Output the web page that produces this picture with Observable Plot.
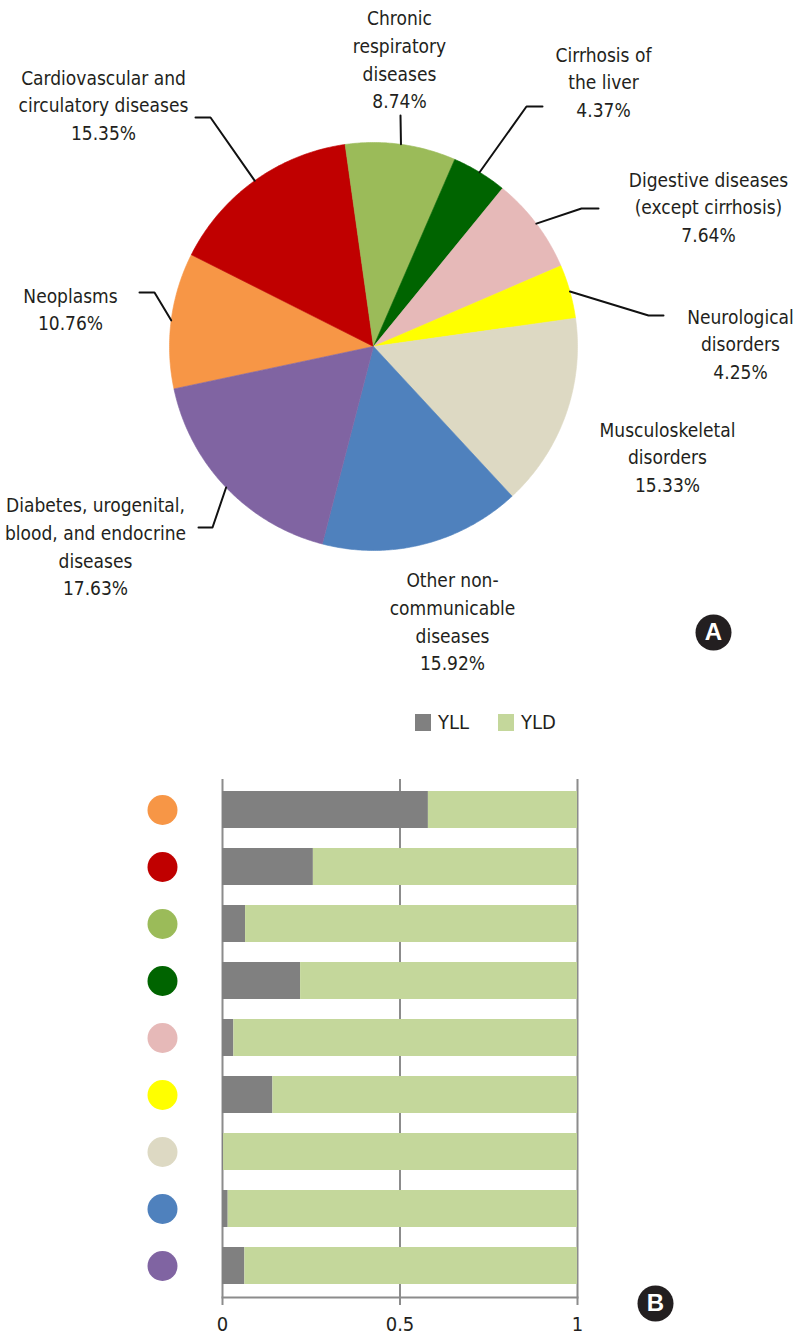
<!DOCTYPE html>
<html><head><meta charset="utf-8">
<script src="https://cdn.jsdelivr.net/npm/d3@7"></script>
<script src="https://cdn.jsdelivr.net/npm/@observablehq/plot@0.6"></script>
<style>
html,body{margin:0;padding:0;background:#fff}
body{width:796px;height:1335px;position:relative;overflow:hidden;font-family:"Liberation Sans Narrow","DejaVu Sans Condensed",sans-serif;color:#231f20}
#pie{position:absolute;left:0;top:0}
#bars{position:absolute;left:0;top:680px}
.leg{position:absolute;top:710px;display:flex;align-items:center;font-size:20px;line-height:24px}
.sw{width:16px;height:17px;margin-right:7px}
</style></head>
<body>
<div id="pie"></div>
<div id="bars"></div>
<div class="leg" style="left:415px"><div class="sw" style="background:#808080"></div><span>YLL</span></div>
<div class="leg" style="left:498px"><div class="sw" style="background:#c4d79b"></div><span>YLD</span></div>
<script>
// ---------- data ----------
const categories = ["Neoplasms","Cardiovascular and circulatory diseases","Chronic respiratory diseases","Cirrhosis of the liver","Digestive diseases (except cirrhosis)","Neurological disorders","Musculoskeletal disorders","Other non-communicable diseases","Diabetes, urogenital, blood, and endocrine diseases"];
const labelLines = [
  ["Neoplasms"],
  ["Cardiovascular and","circulatory diseases"],
  ["Chronic","respiratory","diseases"],
  ["Cirrhosis of","the liver"],
  ["Digestive diseases","(except cirrhosis)"],
  ["Neurological","disorders"],
  ["Musculoskeletal","disorders"],
  ["Other non-","communicable","diseases"],
  ["Diabetes, urogenital,","blood, and endocrine","diseases"]
];
const shares = [10.76, 15.35, 8.74, 4.37, 7.64, 4.25, 15.33, 15.92, 17.63];
const colors = ["#f79646","#c00000","#9bbb59","#006400","#e6b9b8","#ffff00","#ddd9c3","#4f81bd","#8064a2"];
const yll = [0.58, 0.256, 0.065, 0.22, 0.032, 0.142, 0.003, 0.016, 0.063];
const yld = [0.42, 0.744, 0.935, 0.78, 0.968, 0.858, 0.997, 0.984, 0.937];
const seriesNames = ["YLL","YLD"];
const seriesColors = ["#808080","#c4d79b"];
const xTicks = [0, 0.5, 1];
const xTickLabels = ["0","0.5","1"];

// ---------- layout (pixels in the pie panel) ----------
const CX = 373, CY = 346, R = 204;
const toX = px => (px - CX) / R, toY = py => (CY - py) / R;
const labelPos = [[70,307],[103,103],[399,57.5],[603,80],[708,205],[740,342],[667,455],[452,619.5],[95,544.5]];
const leaderPts = [
  [[154,292],[139,292]],
  [[210,117],[195,117]],
  [[400,115]],
  [[526,106],[542,106]],
  [[581,208],[598,208]],
  [[648,315],[663,315]],
  [],
  [],
  [[212,527],[198,527]]
];
const FONT = '"Liberation Sans Narrow","DejaVu Sans Condensed",sans-serif';

// ---------- pie ----------
const start = -102 * Math.PI / 180;
const arcs = d3.pie().sort(null).value(d => d).startAngle(start).endAngle(start + 2*Math.PI)(shares);
const poly = [];
arcs.forEach((a, i) => {
  const name = categories[i];
  poly.push({name, x: 0, y: 0});
  const n = Math.max(8, Math.ceil((a.endAngle - a.startAngle) / 0.01));
  for (let k = 0; k <= n; k++) {
    const t = a.startAngle + (a.endAngle - a.startAngle) * k / n;
    poly.push({name, x: Math.sin(t), y: Math.cos(t)});
  }
  poly.push({name, x: 0, y: 0});
});
const leaders = [];
arcs.forEach((a, i) => {
  if (!leaderPts[i].length) return;
  const m = (a.startAngle + a.endAngle) / 2;
  leaders.push({name: categories[i], x: Math.sin(m), y: Math.cos(m)});
  leaderPts[i].forEach(p => leaders.push({name: categories[i], x: toX(p[0]), y: toY(p[1])}));
});
const labels = categories.map((c, i) => ({
  text: [...labelLines[i], shares[i].toFixed(2) + "%"].join("\n"),
  x: toX(labelPos[i][0]), y: toY(labelPos[i][1])
}));

const pie = Plot.plot({
  width: 796, height: 680, margin: 0,
  style: {fontFamily: FONT, background: "transparent"},
  x: {domain: [-1, 1], range: [CX - R, CX + R], axis: null},
  y: {domain: [-1, 1], range: [CY + R, CY - R], axis: null},
  color: {domain: categories, range: colors},
  marks: [
    Plot.line(poly, {x: "x", y: "y", z: "name", fill: "name", stroke: "name", strokeWidth: 0.6}),
    Plot.line(leaders, {x: "x", y: "y", z: "name", stroke: "#111", strokeWidth: 2}),
    Plot.text(labels, {x: "x", y: "y", text: "text", fontSize: 19, lineHeight: 1.46, fill: "#231f20", lineAnchor: "middle"}),
    Plot.dot(["A"], {x: toX(713), y: toY(632), r: 18, fill: "#231f20", stroke: null}),
    Plot.text(["A"], {x: toX(713), y: toY(632), text: d => d, fill: "white", fontSize: 24, fontWeight: "bold", fontFamily: "Liberation Sans, sans-serif", textAnchor: "middle", lineAnchor: "middle"})
  ]
});
document.getElementById("pie").append(pie);

// ---------- bars ----------
const rows = [];
categories.forEach((c, i) => {
  rows.push({cat: c, type: seriesNames[0], value: yll[i]});
  rows.push({cat: c, type: seriesNames[1], value: yld[i]});
});
const bars = Plot.plot({
  width: 796, height: 655,
  marginTop: 99, marginBottom: 38, marginLeft: 222, marginRight: 219,
  style: {fontFamily: FONT, background: "transparent"},
  x: {domain: [0, 1], axis: null},
  y: {domain: categories, paddingInner: 0.35, paddingOuter: 0.21, axis: null},
  color: {domain: [...seriesNames, ...categories], range: [...seriesColors, ...colors]},
  marks: [
    Plot.ruleX(xTicks, {stroke: "#8c8c8c", strokeWidth: 2}),
    Plot.barX(rows, {x: "value", y: "cat", fill: "type"}),
    Plot.frame({anchor: "bottom", stroke: "#8c8c8c", strokeWidth: 2}),
    Plot.axisX(xTicks, {tickSize: 8, tickPadding: 11, stroke: "#8c8c8c", strokeWidth: 2, fill: "#231f20", fontSize: 20, label: null,
      tickFormat: d => xTickLabels[xTicks.indexOf(d)]}),
    Plot.dot(categories, {y: d => d, fill: d => d, frameAnchor: "left", dx: -60, r: 15, stroke: null}),
    Plot.dot(["B"], {frameAnchor: "bottom-right", dx: 78, dy: 6, r: 18, fill: "#231f20", stroke: null}),
    Plot.text(["B"], {frameAnchor: "bottom-right", dx: 78, dy: 6, text: d => d, fill: "white", fontSize: 24, fontWeight: "bold", fontFamily: "Liberation Sans, sans-serif", textAnchor: "middle", lineAnchor: "middle"})
  ]
});
document.getElementById("bars").append(bars);
</script>
</body></html>
